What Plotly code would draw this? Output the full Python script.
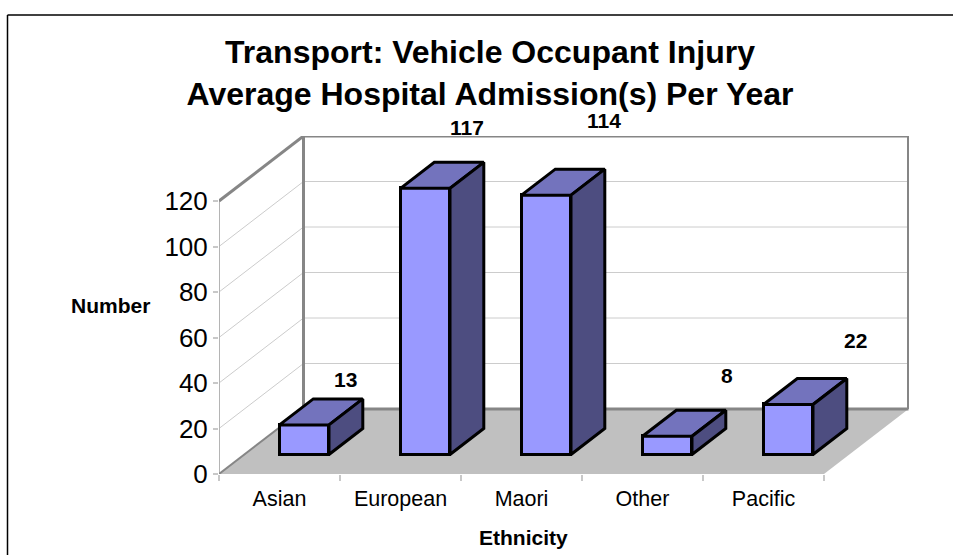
import plotly.graph_objects as go

# ---- data ----
categories = ["Asian", "European", "Maori", "Other", "Pacific"]
values = [13, 117, 114, 8, 22]
y_ticks = [0, 20, 40, 60, 80, 100, 120]
title_text = "Transport: Vehicle Occupant Injury<br>Average Hospital Admission(s) Per Year"
x_title = "Ethnicity"
y_title = "Number"

# ---- pixel layout of the plotting box ----
W, H = 953, 555
L, R, T, B = 219, 909, 136, 474
PX_PER_CAT = 121.0
PX_PER_VAL = 2.275
X_MAX = (R - L) / PX_PER_CAT
Y_MAX = (B - T) / PX_PER_VAL

# oblique projection: full floor depth in axis units
DX = 84.5 / PX_PER_CAT
DY = 65.0 / PX_PER_VAL
DEPTH0, DEPTH1 = 0.30, 0.70      # bar depth span on the floor
BAR_W = 49.5 / PX_PER_CAT
N = len(categories)


def proj(x, v, d):
    return x + d * DX, v + d * DY


def path(points):
    return "M " + " L ".join(f"{x} {y}" for x, y in points) + " Z"


GRID = "#cccccc"
WALL = "#868686"
FLOOR = "#c0c0c0"
FRONT = "#9999ff"
TOP = "#7373bd"
SIDE = "#4d4d80"
INK = "#000000"
FONT = "Liberation Sans, Arial, sans-serif"

shapes = []


def poly(pts, fill="rgba(0,0,0,0)", color=None, width=0):
    shapes.append(dict(type="path", path=path(pts), xref="x", yref="y", layer="below",
                       fillcolor=fill, line=dict(color=color or fill, width=width)))


def seg(p, q, color, width):
    shapes.append(dict(type="line", x0=p[0], y0=p[1], x1=q[0], y1=q[1], xref="x", yref="y",
                       layer="below", line=dict(color=color, width=width)))


vtop = y_ticks[-1]
# floor
poly([proj(0, 0, 0), proj(N, 0, 0), proj(N, 0, 1), proj(0, 0, 1)], fill=FLOOR)
# gridlines on both walls
for v in y_ticks[1:-1]:
    seg(proj(0, v, 0), proj(0, v, 1), GRID, 1)
    seg(proj(0, v, 1), proj(N, v, 1), GRID, 1)
# wall edges
seg(proj(0, 0, 0), proj(0, vtop, 0), "#b4b4b4", 2)
seg(proj(0, 0, 0), proj(0, 0, 1), WALL, 2)
seg(proj(0, vtop, 0), proj(0, vtop, 1), WALL, 3)
seg(proj(0, 0, 1), proj(0, vtop, 1), WALL, 3)
seg(proj(0, vtop, 1), proj(N, vtop, 1), WALL, 3)
seg(proj(N, 0, 1), proj(N, vtop, 1), WALL, 3)
seg(proj(0, 0, 1), proj(N, 0, 1), WALL, 3)

# outer frame, running off the top right and bottom left of the page
shapes.append(dict(type="line", xref="paper", yref="paper", layer="below",
                   x0=(7.5 - L) / (R - L), x1=(W - L) / (R - L),
                   y0=(B - 15) / (B - T), y1=(B - 15) / (B - T),
                   line=dict(color=INK, width=1.5)))
shapes.append(dict(type="line", xref="paper", yref="paper", layer="below",
                   x0=(7.5 - L) / (R - L), x1=(7.5 - L) / (R - L),
                   y0=(B - 15) / (B - T), y1=(B - H) / (B - T),
                   line=dict(color=INK, width=1.5)))

fig = go.Figure()

# front faces are real bars, lifted and shifted to where the depth places them
lefts = [i + 0.5 for i in range(N)]
base_val = DEPTH0 * DY
fig.add_trace(go.Bar(
    x=[x + BAR_W / 2 for x in lefts],
    y=values, base=base_val, width=BAR_W,
    marker=dict(color=FRONT, line=dict(color=INK, width=3)),
    hoverinfo="skip", showlegend=False,
))


def face(pts, color):
    xs, ys = zip(*(pts + pts[:1]))
    fig.add_trace(go.Scatter(x=xs, y=ys, mode="lines", fill="toself", fillcolor=color,
                             line=dict(color=INK, width=3), hoverinfo="skip",
                             showlegend=False, cliponaxis=False))


dd = DEPTH1 - DEPTH0
for x, v in zip(lefts, values):
    h = v + base_val
    # top face
    face([(x, h), (x + BAR_W, h), (x + BAR_W + dd * DX, h + dd * DY), (x + dd * DX, h + dd * DY)], TOP)
    # side face
    face([(x + BAR_W, base_val), (x + BAR_W + dd * DX, base_val + dd * DY),
          (x + BAR_W + dd * DX, h + dd * DY), (x + BAR_W, h)], SIDE)

# value labels, manually placed in the reference, offset from each bar's top-left corner
label_dx = [65.5, 66, 82, 84, 92]
label_dy = [45, 61, 74.5, 60.5, 64]
annotations = [
    dict(x=x, y=v + base_val, text=f"<b>{v}</b>", showarrow=False, xref="x", yref="y",
         xshift=sx, yshift=sy, font=dict(family=FONT, size=21, color=INK))
    for x, v, sx, sy in zip(lefts, values, label_dx, label_dy)
]
annotations += [
    dict(x=(523 - L) / (R - L), y=(B - 537) / (B - T), xref="paper", yref="paper", showarrow=False,
         xanchor="center", yanchor="middle", text=f"<b>{x_title}</b>",
         font=dict(family=FONT, size=21, color=INK)),
    dict(x=(110.5 - L) / (R - L), y=(B - 305) / (B - T), xref="paper", yref="paper", showarrow=False,
         xanchor="center", yanchor="middle", text=f"<b>{y_title}</b>",
         font=dict(family=FONT, size=21, color=INK)),
]

fig.update_layout(
    width=W, height=H, autosize=False,
    margin=dict(l=L, r=W - R, t=T, b=H - B, pad=0),
    paper_bgcolor="white", plot_bgcolor="white",
    showlegend=False, bargap=0,
    shapes=shapes, annotations=annotations,
    title=dict(text=f"<b>{title_text}</b>", x=490 / W, xanchor="center",
               y=1 - 63 / H, yanchor="top",
               font=dict(family=FONT, size=32, color=INK)),
    xaxis=dict(range=[0, X_MAX], showgrid=False, zeroline=False, showline=False,
               tickmode="array", tickvals=lefts, ticktext=categories, ticks="outside",
               ticklen=0, tickwidth=0, tickcolor="#c8c8c8", ticklabelstandoff=5,
               tickfont=dict(family=FONT, size=21.5, color=INK),
               minor=dict(tickmode="array", tickvals=list(range(N + 1)), ticks="outside",
                          ticklen=6, tickcolor="#c8c8c8", tickwidth=1.5, showgrid=False)),
    yaxis=dict(range=[0, Y_MAX], showgrid=False, zeroline=False, showline=False,
               tickmode="array", tickvals=y_ticks, ticks="outside", ticklen=5,
               tickcolor="#c8c8c8", tickwidth=1.5,
               tickfont=dict(family=FONT, size=26, color=INK)),
)

fig.write_html("out.html", config=dict(displayModeBar=False),
               post_script="document.body.style.margin='0';document.documentElement.style.overflow='hidden';")
